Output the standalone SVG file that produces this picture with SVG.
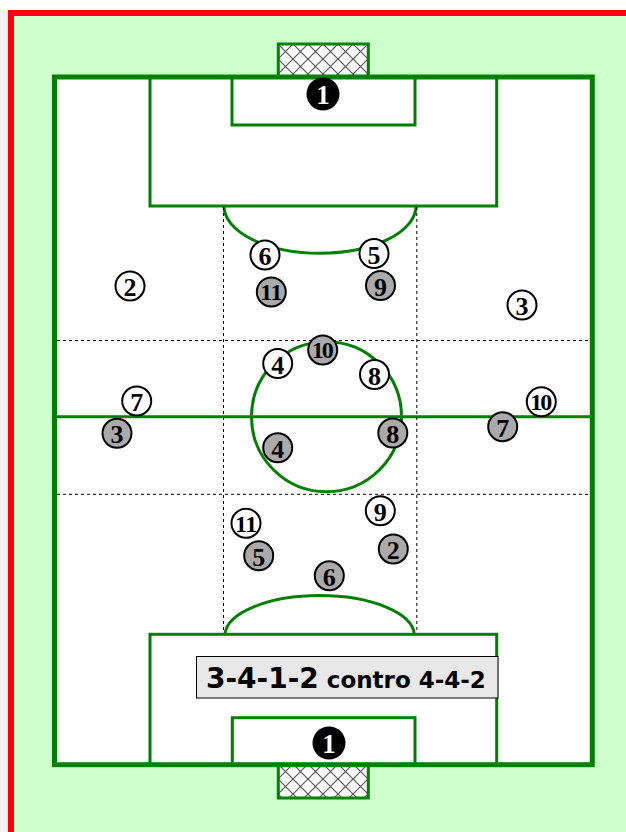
<svg xmlns="http://www.w3.org/2000/svg" width="626" height="832" viewBox="0 0 626 832">
<style>
.line{fill:none;stroke:#008000;stroke-width:3}
.dash{fill:none;stroke:#000;stroke-width:1;stroke-dasharray:3,3}
.pw circle{fill:#fff;stroke:#000;stroke-width:2}
.pg circle{fill:#aaaaaa;stroke:#000;stroke-width:2}
.pw text,.pg text{font-family:"Liberation Serif","Times New Roman",serif;font-weight:bold;font-size:26px;text-anchor:middle;fill:#000}
.pw text.two,.pg text.two{font-size:24px;letter-spacing:-2px}
.pw text.one,.pg text.one{font-size:24px;letter-spacing:-0.5px}
.gk circle{fill:#000;stroke:none}
.gk text{font-family:"Liberation Serif","Times New Roman",serif;font-weight:bold;font-size:27px;text-anchor:middle;fill:#fff}
</style>
<defs>
<pattern id="net" width="15" height="15" patternUnits="userSpaceOnUse" x="278" y="44">
<rect width="15" height="15" fill="#fff"/>
<path d="M0,0 L15,15 M15,0 L0,15" stroke="#555" stroke-width="1.2"/>
</pattern>
</defs>
<rect x="0" y="0" width="626" height="832" fill="#fff"/>
<rect x="0" y="10" width="8" height="822" fill="#f2f2f2"/>
<rect x="11" y="13" width="700" height="900" fill="#ccffcc" stroke="#ff0000" stroke-width="6"/>
<g id="field">
<rect x="278.3" y="44" width="90" height="33" fill="url(#net)" stroke="#008000" stroke-width="3"/>
<rect x="278.3" y="765" width="90" height="33" fill="url(#net)" stroke="#008000" stroke-width="3"/>
<rect x="54.5" y="77" width="537.8" height="687.7" fill="#fff" stroke="#008000" stroke-width="5"/>
<rect class="line" x="150" y="77" width="346.7" height="129"/>
<rect class="line" x="232" y="77" width="183" height="48"/>
<rect class="line" x="150" y="634.3" width="346.7" height="130.4"/>
<rect class="line" x="232.3" y="717.7" width="182.7" height="47"/>
<path class="line" d="M224,206 A96,47.3 0 0 0 416,206"/>
<path class="line" d="M225,634.3 A94.7,40 0 0 1 414.3,634.3"/>
<line class="line" x1="55" y1="416.7" x2="592" y2="416.7"/>
<circle class="line" cx="326.5" cy="416.7" r="75"/>
</g>
<g id="grid">
<line class="dash" x1="223.5" y1="207" x2="223.5" y2="633"/>
<line class="dash" x1="416.8" y1="207" x2="416.8" y2="633"/>
<line class="dash" x1="57" y1="340.5" x2="590" y2="340.5"/>
<line class="dash" x1="57" y1="494.3" x2="590" y2="494.3"/>
</g>
<g id="gk-top" class="gk"><circle cx="323" cy="94" r="16.5"/><text x="323" y="103.5">1</text></g>
<g id="gk-bottom" class="gk"><circle cx="329" cy="743" r="16.5"/><text x="329" y="752.5">1</text></g>
<g id="w6" class="pw"><circle cx="265" cy="255" r="14.5"/><text x="265" y="265">6</text></g>
<g id="w5" class="pw"><circle cx="374" cy="253.5" r="14.5"/><text x="374" y="263.5">5</text></g>
<g id="w2" class="pw"><circle cx="130" cy="286" r="14.5"/><text x="130" y="296">2</text></g>
<g id="w3" class="pw"><circle cx="522" cy="305" r="14.5"/><text x="522" y="315">3</text></g>
<g id="w4" class="pw"><circle cx="277.7" cy="363.5" r="14.5"/><text x="277.7" y="373.5">4</text></g>
<g id="w8" class="pw"><circle cx="374.5" cy="374.5" r="14.5"/><text x="374.5" y="384.5">8</text></g>
<g id="w7" class="pw"><circle cx="136.7" cy="401" r="14.5"/><text x="136.7" y="411">7</text></g>
<g id="w10" class="pw"><circle cx="541.3" cy="401.7" r="14.5"/><text class="two" x="540.3" y="410">10</text></g>
<g id="w11" class="pw"><circle cx="246" cy="523.3" r="14.5"/><text class="one" x="245.8" y="531.6">11</text></g>
<g id="w9" class="pw"><circle cx="380.3" cy="510.7" r="14.5"/><text x="380.3" y="520.7">9</text></g>
<g id="g11" class="pg"><circle cx="271.3" cy="292" r="14.5"/><text class="one" x="271.1" y="300.3">11</text></g>
<g id="g9" class="pg"><circle cx="380.5" cy="285.5" r="14.5"/><text x="380.5" y="295.5">9</text></g>
<g id="g10" class="pg"><circle cx="322.7" cy="350" r="14.5"/><text class="two" x="321.7" y="358.3">10</text></g>
<g id="g3" class="pg"><circle cx="117" cy="433.3" r="14.5"/><text x="117" y="443.3">3</text></g>
<g id="g4" class="pg"><circle cx="277.7" cy="447.7" r="14.5"/><text x="277.7" y="457.7">4</text></g>
<g id="g8" class="pg"><circle cx="392.8" cy="433" r="14.5"/><text x="392.8" y="443">8</text></g>
<g id="g7" class="pg"><circle cx="502.7" cy="426.7" r="14.5"/><text x="502.7" y="436.7">7</text></g>
<g id="g5" class="pg"><circle cx="258.7" cy="555.7" r="14.5"/><text x="258.7" y="565.7">5</text></g>
<g id="g2" class="pg"><circle cx="393.3" cy="549" r="14.5"/><text x="393.3" y="559">2</text></g>
<g id="g6" class="pg"><circle cx="329.3" cy="575.7" r="14.5"/><text x="329.3" y="585.7">6</text></g>
<g id="label">
<rect x="196.5" y="656.5" width="301.5" height="41.5" fill="#e8e8e8" stroke="#000" stroke-width="1"/>
<text x="206" y="688" font-family="'DejaVu Sans',Verdana,sans-serif" font-weight="bold" fill="#000"><tspan font-size="28">3-4-1-2</tspan><tspan font-size="23"> contro 4-4-2</tspan></text>
</g>
</svg>
